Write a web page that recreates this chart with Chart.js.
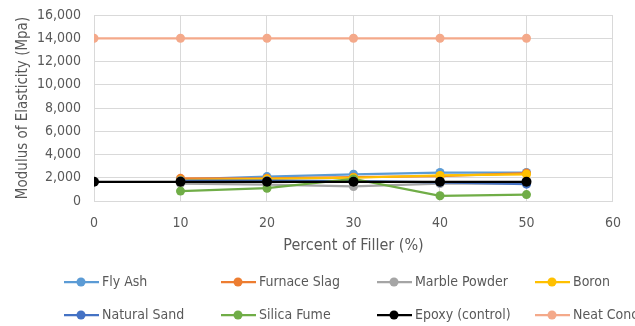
<!DOCTYPE html>
<html>
<head>
<meta charset="utf-8">
<script src="https://cdn.jsdelivr.net/npm/chart.js@4/dist/chart.umd.min.js"></script>
<style>
  html, body { margin: 0; padding: 0; background: #ffffff; }
  #wrap { width: 635px; height: 326px; position: relative; }
</style>
</head>
<body>
<div id="wrap"><canvas id="c"></canvas></div>
<script>
// Percent of filler (x values)
const fillerPct = [0, 10, 20, 30, 40, 50];

// Modulus of elasticity (MPa) for each filler type; null = not tested
const flyAsh       = [null, 1850, 2100, 2300, 2450, 2450];
const furnaceSlag  = [null, 1950, 1950, 2050, 2150, 2400];
const marblePowder = [null, 1500, 1400, 1250, 1500, 1500];
const boron        = [null, 1800, 1900, 2000, 2200, 2300];
const naturalSand  = [null, 1750, 1750, 1700, 1600, 1450];
const silicaFume   = [null, 850, 1100, 1900, 450, 550];
const epoxyControl = [1650, 1650, 1650, 1650, 1650, 1650];
const neatConcrete = [14000, 14000, 14000, 14000, 14000, 14000];

const seriesNames = ['Fly Ash', 'Furnace Slag', 'Marble Powder', 'Boron',
                     'Natural Sand', 'Silica Fume', 'Epoxy (control)', 'Neat Concrete'];
const seriesValues = [flyAsh, furnaceSlag, marblePowder, boron,
                      naturalSand, silicaFume, epoxyControl, neatConcrete];
const seriesColors = ['#5B9BD5', '#ED7D31', '#A5A5A5', '#FFC000',
                      '#4472C4', '#70AD47', '#000000', '#F4A98A'];

const yTicks = [0, 2000, 4000, 6000, 8000, 10000, 12000, 14000, 16000];
const xTicks = [0, 10, 20, 30, 40, 50, 60];

const FONT = '"Liberation Sans Narrow", "DejaVu Sans Condensed", "Liberation Sans", sans-serif';
const TEXT = '#595959';

const datasets = seriesNames.map((name, i) => ({
  label: name,
  data: fillerPct
    .map((x, j) => ({ x: x, y: seriesValues[i][j] }))
    .filter(p => p.y !== null),
  borderColor: seriesColors[i],
  backgroundColor: seriesColors[i],
  borderWidth: 2.25,
  pointRadius: i === 6 ? 5 : 4.5,
  pointHoverRadius: 5,
  pointBorderWidth: 0,
  tension: 0,
  // later series are painted over earlier ones
  order: seriesNames.length - i
}));

// Legend laid out in fixed columns, two rows, drawn below the axis title
const gridLegend = {
  id: 'gridLegend',
  afterDraw(chart) {
    const ctx = chart.ctx;
    const cols = 4, colX = [64, 221, 377, 535], rowY = [282, 315];
    ctx.save();
    ctx.font = '14px ' + FONT;
    ctx.textBaseline = 'middle';
    ctx.textAlign = 'left';
    chart.data.datasets.forEach((ds, i) => {
      const x = colX[i % cols], y = rowY[Math.floor(i / cols)];
      ctx.strokeStyle = ds.borderColor;
      ctx.lineWidth = 2.25;
      ctx.beginPath();
      ctx.moveTo(x, y);
      ctx.lineTo(x + 35, y);
      ctx.stroke();
      ctx.fillStyle = ds.backgroundColor;
      ctx.beginPath();
      ctx.arc(x + 17, y, 4.5, 0, Math.PI * 2);
      ctx.fill();
      ctx.fillStyle = TEXT;
      ctx.fillText(ds.label, x + 38, y);
    });
    ctx.restore();
  }
};

new Chart(document.getElementById('c'), {
  type: 'line',
  data: { datasets },
  plugins: [gridLegend],
  options: {
    responsive: true,
    maintainAspectRatio: false,
    animation: false,
    layout: { autoPadding: false, padding: { left: 14, right: 22, top: 15, bottom: 67 } },
    plugins: {
      legend: { display: false },
      tooltip: { enabled: false }
    },
    scales: {
      x: {
        type: 'linear',
        min: 0, max: 60,
        afterBuildTicks(scale) { scale.ticks = xTicks.map(v => ({ value: v })); },
        afterFit(scale) { scale.height = 58; },
        ticks: { color: TEXT, font: { family: FONT, size: 14 }, padding: 14 },
        grid: { color: '#D9D9D9', lineWidth: 1, drawTicks: false },
        border: { color: '#D9D9D9' },
        title: {
          display: true,
          text: 'Percent of Filler (%)',
          color: TEXT,
          font: { family: FONT, size: 16 },
          padding: { top: 0, bottom: 4 }
        }
      },
      y: {
        min: 0, max: 16000,
        afterBuildTicks(scale) { scale.ticks = yTicks.map(v => ({ value: v })); },
        afterFit(scale) { scale.width = 80; },
        ticks: {
          color: TEXT, font: { family: FONT, size: 14, lineHeight: 0.1 }, padding: 13,
          callback: v => v.toLocaleString('en-US')
        },
        grid: { color: '#D9D9D9', lineWidth: 1, drawTicks: false },
        border: { display: false },
        title: {
          display: true,
          text: 'Modulus of Elasticity (Mpa)',
          color: TEXT,
          font: { family: FONT, size: 15 },
          padding: { top: 0, bottom: 2 }
        }
      }
    }
  }
});
</script>
</body>
</html>
